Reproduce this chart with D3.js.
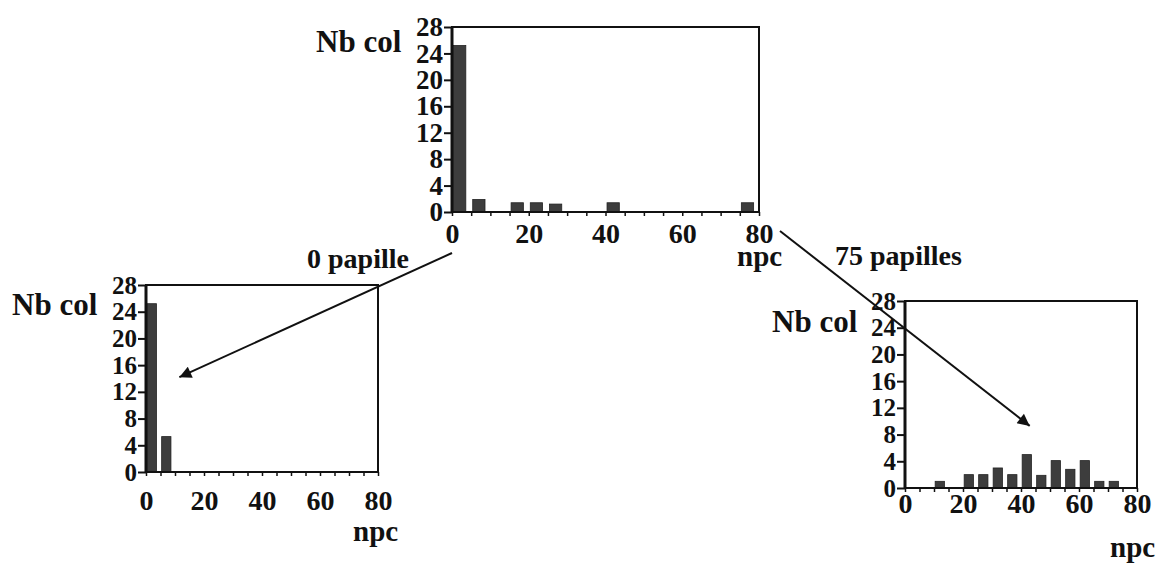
<!DOCTYPE html>
<html>
<head>
<meta charset="utf-8">
<script src="https://cdn.jsdelivr.net/npm/d3@7"></script>
<style>
body { margin: 0; background: #fff; }
text { font-family: "Liberation Serif", "Times New Roman", serif; font-weight: bold; fill: #111; }
</style>
</head>
<body>
<svg></svg>
<script>

var yTicks = [0, 4, 8, 12, 16, 20, 24, 28];
var xTicks = [0, 20, 40, 60, 80];

// npc classes (lower bound of each 5-wide class) and number of colonies
var topBins = [0, 5, 15, 20, 25, 40, 75];
var topCounts = [25.2, 1.9, 1.4, 1.4, 1.2, 1.4, 1.4];

var leftBins = [0, 5];
var leftCounts = [25.2, 5.3];

var rightBins = [10, 20, 25, 30, 35, 40, 45, 50, 55, 60, 65, 70];
var rightCounts = [1, 2, 2, 3, 2, 5, 1.9, 4.1, 2.8, 4.1, 1, 1];

var svg = d3.select('svg')
   .attr('width', 1160)
   .attr('height', 563)

svg.append('defs').append('marker')
   .attr('id', 'head')
   .attr('viewBox', '0 0 10 10')
   .attr('refX', 10)
   .attr('refY', 5)
   .attr('markerWidth', 7)
   .attr('markerHeight', 6)
   .attr('markerUnits', 'strokeWidth')
   .attr('orient', 'auto')
   .append('path')
   .attr('d', 'M0,0L10,5L0,10Z')
   .attr('fill', '#111');

var panel = (cfg) => {
   var x = d3.scaleLinear().domain([0, 80]).range([cfg.left, cfg.right]);
   var y = d3.scaleLinear().domain([0, 28]).range([cfg.bottom, cfg.top]);
   var g = svg.append('g');

   var bars = cfg.bins.map((b, i) => { return { bin: b, count: cfg.counts[i] }; });

   g.selectAll('rect.bar')
      .data(bars)
      .enter()
      .append('rect')
      .attr('class', 'bar')
      .attr('x', (d) => x(d.bin + 0.4))
      .attr('width', (d) => x(d.bin + 3.6) - x(d.bin + 0.4))
      .attr('y', (d) => y(d.count))
      .attr('height', (d) => y(0) - y(d.count))
      .attr('fill', '#3d3d3d')
      .attr('stroke', '#222')
      .attr('stroke-width', 0.8);

   // frame
   g.append('rect')
      .attr('x', x(0))
      .attr('y', y(28))
      .attr('width', x(80) - x(0))
      .attr('height', y(0) - y(28))
      .attr('fill', 'none')
      .attr('stroke', '#111')
      .attr('stroke-width', 2);

   g.append('line')
      .attr('x1', x(0)).attr('x2', x(0))
      .attr('y1', y(28)).attr('y2', y(0))
      .attr('stroke', '#111')
      .attr('stroke-width', 3);

   var ya = g.append('g')
      .attr('transform', 'translate(' + x(0) + ',0)')
      .call(d3.axisLeft(y).tickValues(yTicks).tickSize(8).tickPadding(1));
   ya.select('.domain').remove();
   ya.selectAll('line').attr('stroke', '#111').attr('stroke-width', 2);
   ya.selectAll('text').style('font-size', cfg.yFont + 'px');

   var minor = g.append('g')
      .attr('transform', 'translate(0,' + y(0) + ')')
      .call(d3.axisBottom(x).tickValues(d3.range(0, 81, 5)).tickSize(4).tickFormat(''));
   minor.select('.domain').remove();
   minor.selectAll('line').attr('stroke', '#111').attr('stroke-width', 1.5);

   var xa = g.append('g')
      .attr('transform', 'translate(0,' + y(0) + ')')
      .call(d3.axisBottom(x).tickValues(xTicks).tickSize(0).tickPadding(cfg.xPad));
   xa.select('.domain').remove();
   xa.selectAll('text').style('font-size', '28px');

   g.append('text')
      .attr('x', cfg.nb[0])
      .attr('y', cfg.nb[1])
      .style('font-size', '31px')
      .text('Nb col');

   g.append('text')
      .attr('x', cfg.npc[0])
      .attr('y', cfg.npc[1])
      .style('font-size', '29px')
      .text('npc');

   return { x: x, y: y };
}

var pTop = panel({ bins: topBins, counts: topCounts, left: 452, right: 759, top: 27, bottom: 212,
   yFont: 27, xPad: 11, nb: [316, 52], npc: [737, 266] });
var pLeft = panel({ bins: leftBins, counts: leftCounts, left: 146, right: 378, top: 285, bottom: 472,
   yFont: 25, xPad: 18, nb: [12, 315], npc: [353, 541] });
var pRight = panel({ bins: rightBins, counts: rightCounts, left: 905, right: 1137, top: 301, bottom: 488,
   yFont: 25, xPad: 5, nb: [772, 332], npc: [1110, 557] });

// arrows from the source histogram to the two sub-populations
svg.append('line')
   .attr('x1', pTop.x(0)).attr('y1', pTop.y(0) + 41)
   .attr('x2', pLeft.x(11.5)).attr('y2', pLeft.y(14.2))
   .attr('stroke', '#111')
   .attr('stroke-width', 2)
   .attr('marker-end', 'url(#head)');

svg.append('line')
   .attr('x1', pTop.x(80) + 21).attr('y1', pTop.y(0) + 19)
   .attr('x2', pRight.x(43)).attr('y2', pRight.y(9.3))
   .attr('stroke', '#111')
   .attr('stroke-width', 2)
   .attr('marker-end', 'url(#head)');

svg.append('text')
   .attr('x', 307)
   .attr('y', 268)
   .style('font-size', '28px')
   .text('0 papille');

svg.append('text')
   .attr('x', 835)
   .attr('y', 265)
   .style('font-size', '28px')
   .text('75 papilles');
</script>
</body>
</html>
